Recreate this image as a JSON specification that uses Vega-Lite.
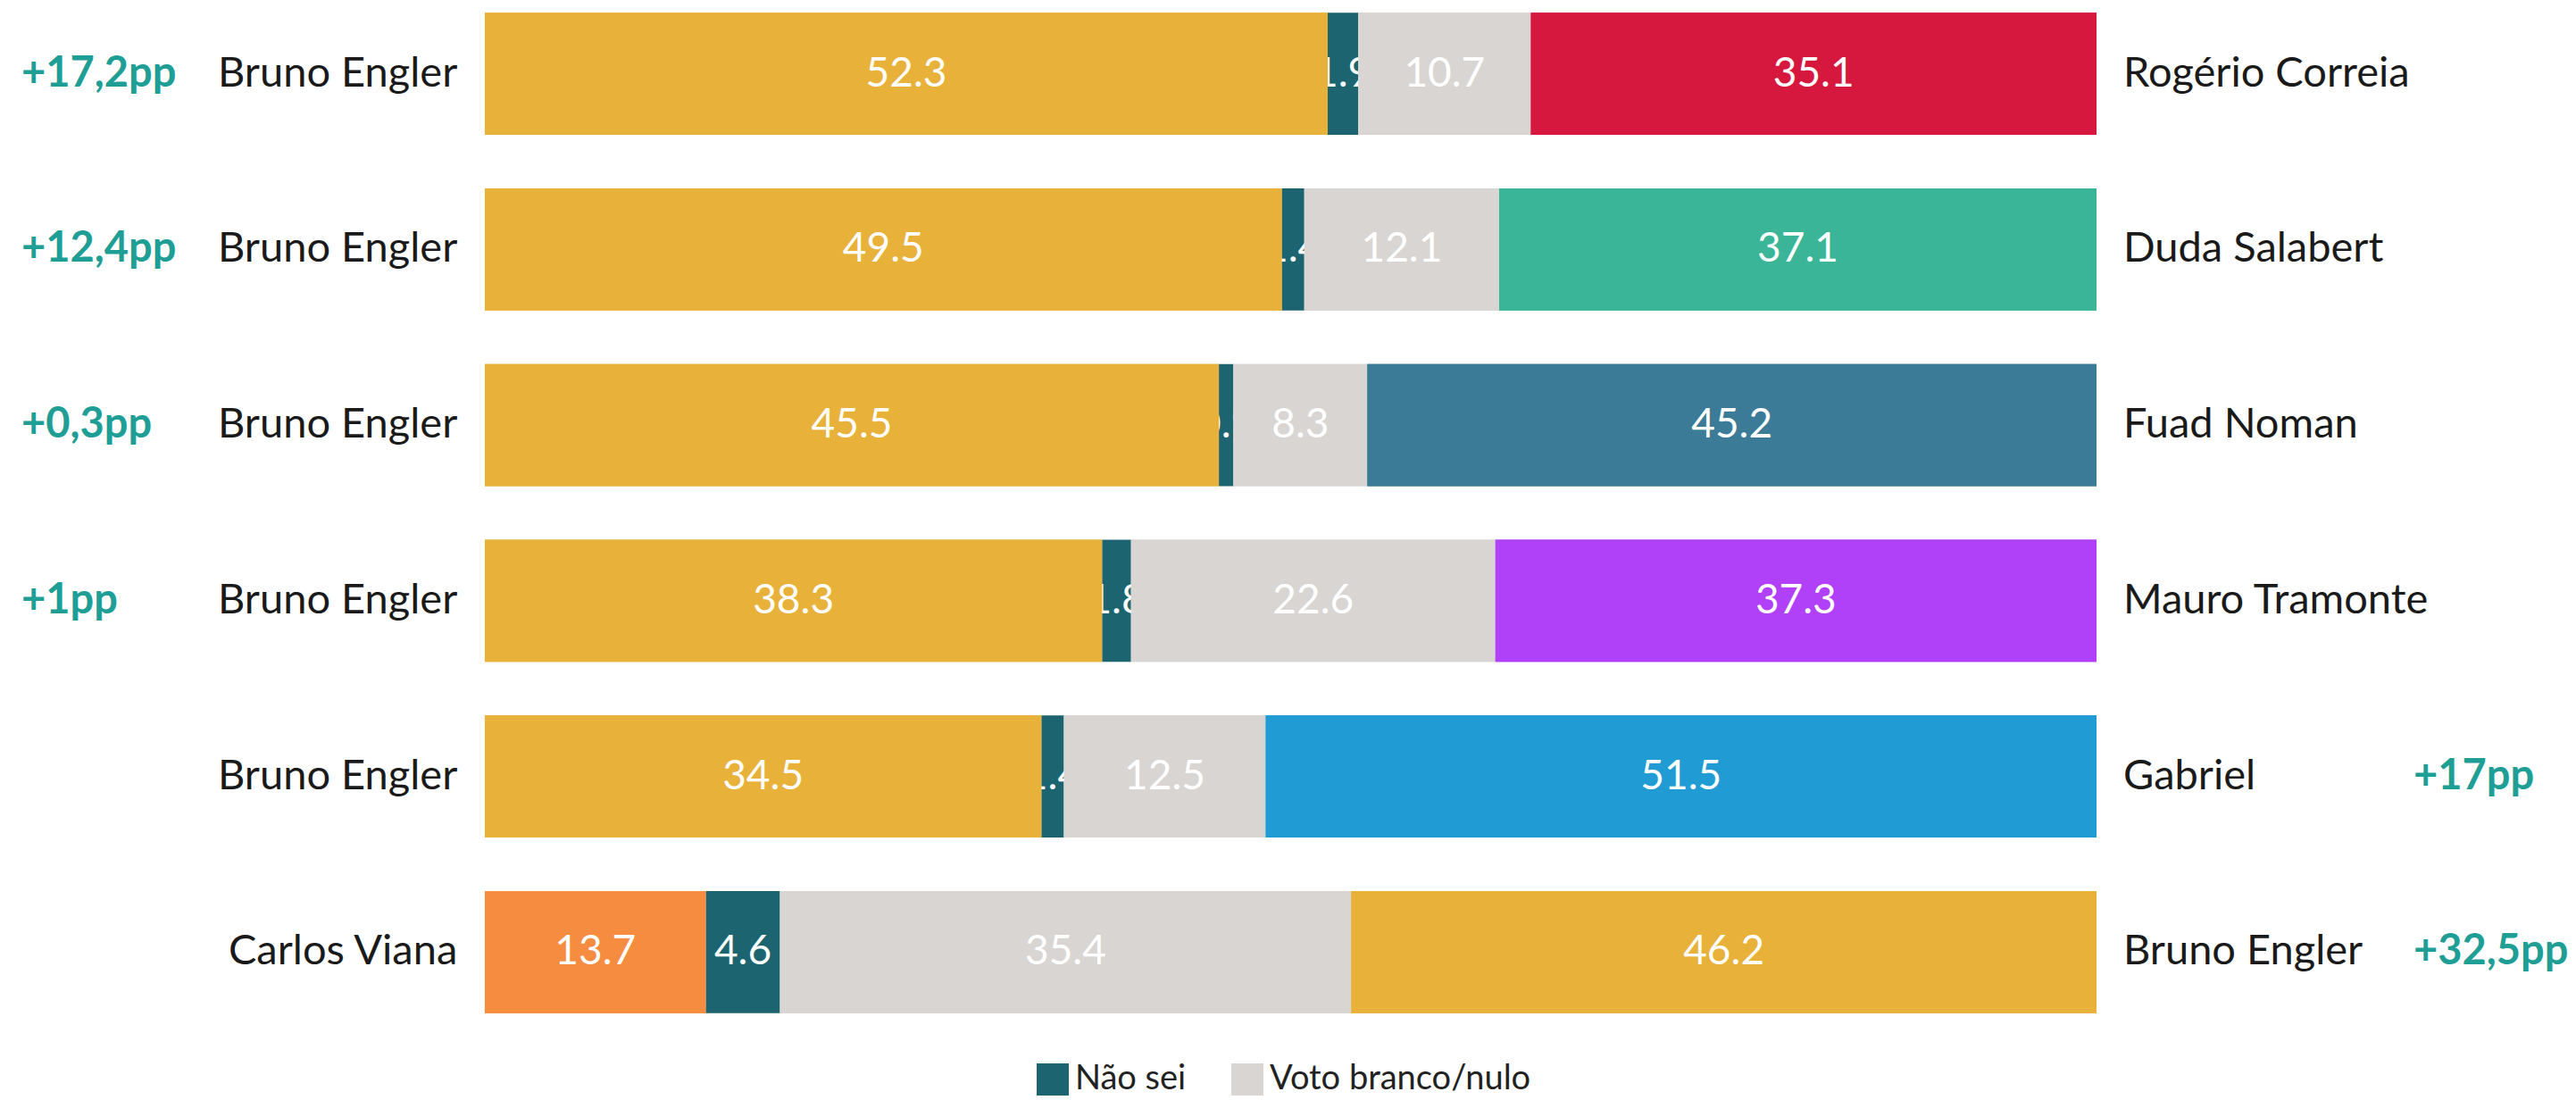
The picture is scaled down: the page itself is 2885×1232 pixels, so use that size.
{
  "$schema": "https://vega.github.io/schema/vega-lite/v6.json",
  "autosize": {"type": "none"},
  "width": 2885,
  "height": 1149,
  "padding": {"left": 0, "right": 0, "top": 0, "bottom": 83},
  "background": "white",
  "config": {"view": {"stroke": null}, "font": "Lato"},
  "datasets": {
    "seg": [
      {"row": 1, "cat": "Bruno Engler", "value": 52.3, "ord": 1},
      {"row": 1, "cat": "Não sei", "value": 1.9, "ord": 2},
      {"row": 1, "cat": "Voto branco/nulo", "value": 10.7, "ord": 3},
      {"row": 1, "cat": "Rogério Correia", "value": 35.1, "ord": 4},
      {"row": 2, "cat": "Bruno Engler", "value": 49.5, "ord": 1},
      {"row": 2, "cat": "Não sei", "value": 1.4, "ord": 2},
      {"row": 2, "cat": "Voto branco/nulo", "value": 12.1, "ord": 3},
      {"row": 2, "cat": "Duda Salabert", "value": 37.1, "ord": 4},
      {"row": 3, "cat": "Bruno Engler", "value": 45.5, "ord": 1},
      {"row": 3, "cat": "Não sei", "value": 0.9, "ord": 2},
      {"row": 3, "cat": "Voto branco/nulo", "value": 8.3, "ord": 3},
      {"row": 3, "cat": "Fuad Noman", "value": 45.2, "ord": 4},
      {"row": 4, "cat": "Bruno Engler", "value": 38.3, "ord": 1},
      {"row": 4, "cat": "Não sei", "value": 1.8, "ord": 2},
      {"row": 4, "cat": "Voto branco/nulo", "value": 22.6, "ord": 3},
      {"row": 4, "cat": "Mauro Tramonte", "value": 37.3, "ord": 4},
      {"row": 5, "cat": "Bruno Engler", "value": 34.5, "ord": 1},
      {"row": 5, "cat": "Não sei", "value": 1.4, "ord": 2},
      {"row": 5, "cat": "Voto branco/nulo", "value": 12.5, "ord": 3},
      {"row": 5, "cat": "Gabriel", "value": 51.5, "ord": 4},
      {"row": 6, "cat": "Carlos Viana", "value": 13.7, "ord": 1},
      {"row": 6, "cat": "Não sei", "value": 4.6, "ord": 2},
      {"row": 6, "cat": "Voto branco/nulo", "value": 35.4, "ord": 3},
      {"row": 6, "cat": "Bruno Engler", "value": 46.2, "ord": 4}
    ],
    "names": [
      {"row": 1, "left": "Bruno Engler", "right": "Rogério Correia"},
      {"row": 2, "left": "Bruno Engler", "right": "Duda Salabert"},
      {"row": 3, "left": "Bruno Engler", "right": "Fuad Noman"},
      {"row": 4, "left": "Bruno Engler", "right": "Mauro Tramonte"},
      {"row": 5, "left": "Bruno Engler", "right": "Gabriel"},
      {"row": 6, "left": "Carlos Viana", "right": "Bruno Engler"}
    ],
    "notes": [
      {"row": 1, "note": "+17,2pp", "side": "L"},
      {"row": 2, "note": "+12,4pp", "side": "L"},
      {"row": 3, "note": "+0,3pp", "side": "L"},
      {"row": 4, "note": "+1pp", "side": "L"},
      {"row": 5, "note": "+17pp", "side": "R"},
      {"row": 6, "note": "+32,5pp", "side": "R"}
    ]
  },
  "layer": [
    {
      "data": {"name": "seg"},
      "mark": {"type": "bar"},
      "encoding": {
        "x": {"field": "value", "type": "quantitative", "stack": "normalize", "scale": {"domain": [-0.3008, 1.2975], "nice": false, "zero": false}, "axis": null},
        "y": {"field": "row", "type": "ordinal", "scale": {"type": "band", "paddingInner": 0.304, "paddingOuter": 0.072}, "axis": null},
        "order": {"field": "ord", "type": "quantitative"},
        "color": {
          "field": "cat", "type": "nominal",
          "scale": {
            "domain": ["Bruno Engler", "Não sei", "Voto branco/nulo", "Rogério Correia", "Duda Salabert", "Fuad Noman", "Mauro Tramonte", "Gabriel", "Carlos Viana"],
            "range": ["#E8B23A", "#1C6570", "#D8D5D2", "#D6183F", "#3AB597", "#3C7B97", "#B041F8", "#219BD3", "#F68C3F"]
          },
          "legend": {
            "values": ["Não sei", "Voto branco/nulo"],
            "orient": "none", "legendX": 1160, "legendY": 1190,
            "direction": "horizontal", "title": null,
            "symbolType": "square", "symbolSize": 1296, "symbolStrokeWidth": 0, "symbolOpacity": 1,
            "labelFont": "Lato", "labelFontSize": 38, "labelColor": "#222222", "labelLimit": 0,
            "labelOffset": 6, "columnPadding": 49
          }
        }
      }
    },
    {
      "data": {"name": "seg"},
      "mark": {"type": "text", "color": "white", "fontSize": 46, "font": "Lato", "align": "center", "baseline": "middle"},
      "encoding": {
        "x": {"field": "value", "type": "quantitative", "stack": "normalize", "bandPosition": 0.5},
        "y": {"field": "row", "type": "ordinal"},
        "order": {"field": "ord", "type": "quantitative"},
        "text": {"field": "value", "type": "quantitative", "format": ".1f"},
        "opacity": {"condition": {"test": "datum.cat !== 'Não sei'", "value": 0}, "value": 1}
      }
    },
    {
      "data": {"name": "seg"},
      "mark": {"type": "bar"},
      "encoding": {
        "x": {"field": "value", "type": "quantitative", "stack": "normalize"},
        "y": {"field": "row", "type": "ordinal"},
        "order": {"field": "ord", "type": "quantitative"},
        "color": {"field": "cat", "type": "nominal", "legend": null},
        "opacity": {"condition": {"test": "datum.cat === 'Não sei'", "value": 0}, "value": 1}
      }
    },
    {
      "data": {"name": "seg"},
      "mark": {"type": "text", "color": "white", "fontSize": 46, "font": "Lato", "align": "center", "baseline": "middle"},
      "encoding": {
        "x": {"field": "value", "type": "quantitative", "stack": "normalize", "bandPosition": 0.5},
        "y": {"field": "row", "type": "ordinal"},
        "order": {"field": "ord", "type": "quantitative"},
        "text": {"field": "value", "type": "quantitative", "format": ".1f"},
        "opacity": {"condition": {"test": "datum.cat === 'Não sei'", "value": 0}, "value": 1}
      }
    },
    {
      "data": {"name": "names"},
      "mark": {"type": "text", "color": "#1a1a1a", "fontSize": 47, "font": "Lato", "align": "right", "baseline": "middle"},
      "encoding": {
        "x": {"datum": -0.017, "type": "quantitative"},
        "y": {"field": "row", "type": "ordinal"},
        "text": {"field": "left"}
      }
    },
    {
      "data": {"name": "names"},
      "mark": {"type": "text", "color": "#1a1a1a", "fontSize": 47, "font": "Lato", "align": "left", "baseline": "middle"},
      "encoding": {
        "x": {"datum": 1.0166, "type": "quantitative"},
        "y": {"field": "row", "type": "ordinal"},
        "text": {"field": "right"}
      }
    },
    {
      "data": {"name": "notes"},
      "transform": [{"filter": "datum.side === 'L'"}],
      "mark": {"type": "text", "color": "#1E9E95", "fontSize": 47, "font": "Lato", "fontWeight": "bold", "align": "left", "baseline": "middle"},
      "encoding": {
        "x": {"datum": -0.2875, "type": "quantitative"},
        "y": {"field": "row", "type": "ordinal"},
        "text": {"field": "note"}
      }
    },
    {
      "data": {"name": "notes"},
      "transform": [{"filter": "datum.side === 'R'"}],
      "mark": {"type": "text", "color": "#1E9E95", "fontSize": 47, "font": "Lato", "fontWeight": "bold", "align": "left", "baseline": "middle"},
      "encoding": {
        "x": {"datum": 1.1967, "type": "quantitative"},
        "y": {"field": "row", "type": "ordinal"},
        "text": {"field": "note"}
      }
    }
  ]
}
